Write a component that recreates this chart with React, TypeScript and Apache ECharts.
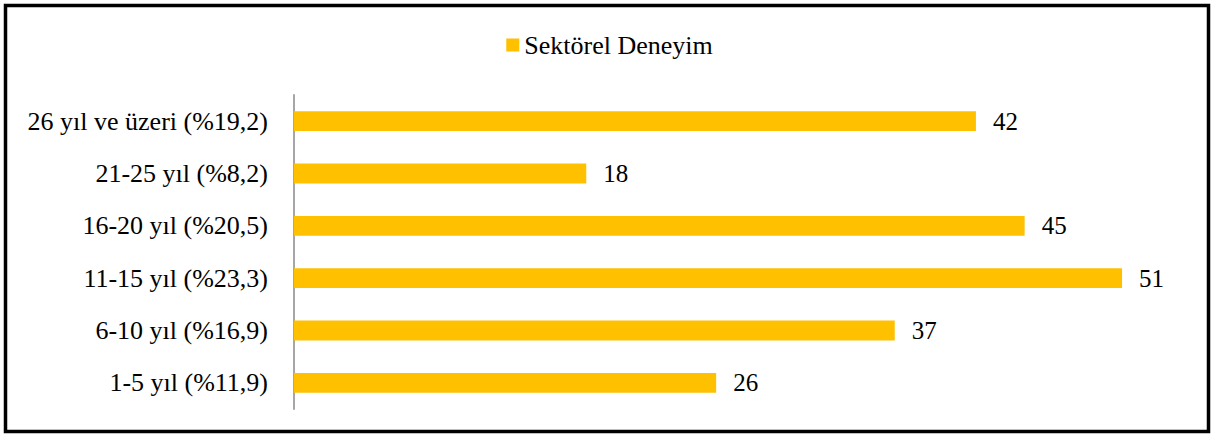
import React, { useEffect, useRef } from "react";
import * as echarts from "echarts";

const categories = [
  "1-5 yıl (%11,9)",
  "6-10 yıl (%16,9)",
  "11-15 yıl (%23,3)",
  "16-20 yıl (%20,5)",
  "21-25 yıl (%8,2)",
  "26 yıl ve üzeri (%19,2)",
];
const values = [26, 37, 51, 45, 18, 42];
const seriesName = "Sektörel Deneyim";

export default function App() {
  const ref = useRef<HTMLDivElement>(null);
  useEffect(() => {
    if (!ref.current) return;
    const chart = echarts.init(ref.current, null, { renderer: "svg" });
    const font = "'Liberation Serif', 'Times New Roman', 'DejaVu Serif', serif";
    chart.setOption({
      animation: false,
      backgroundColor: "#ffffff",
      textStyle: { fontFamily: font },
      graphic: [
        {
          type: "rect",
          shape: { x: 5.5, y: 5.5, width: 1203, height: 426 },
          style: { fill: "none", stroke: "#000000", lineWidth: 3.5 },
          silent: true,
        },
      ],
      legend: {
        top: 27,
        left: "center",
        itemWidth: 13,
        itemHeight: 13,
        itemGap: 8,
        icon: "rect",
        textStyle: { fontFamily: font, fontSize: 26, color: "#000000" },
        data: [seriesName],
      },
      grid: {
        left: 294,
        top: 95,
        width: 893,
        height: 314,
        containLabel: false,
      },
      xAxis: {
        type: "value",
        min: 0,
        max: 55,
        show: false,
        splitLine: { show: false },
      },
      yAxis: {
        type: "category",
        data: categories,
        axisLine: { show: true, lineStyle: { color: "#a6a6a6", width: 2 } },
        axisTick: { show: false },
        axisLabel: {
          fontFamily: font,
          fontSize: 26,
          color: "#000000",
          margin: 26,
        },
      },
      series: [
        {
          name: seriesName,
          type: "bar",
          data: values,
          barCategoryGap: "62%",
          itemStyle: { color: "#FFC000" },
          label: {
            show: true,
            position: "right",
            distance: 17,
            fontFamily: font,
            fontSize: 25,
            color: "#000000",
          },
        },
      ],
    });
    return () => chart.dispose();
  }, []);
  return (
    <div
      ref={ref}
      style={{ position: "fixed", left: 0, top: 0, width: 1219, height: 439 }}
    />
  );
}
